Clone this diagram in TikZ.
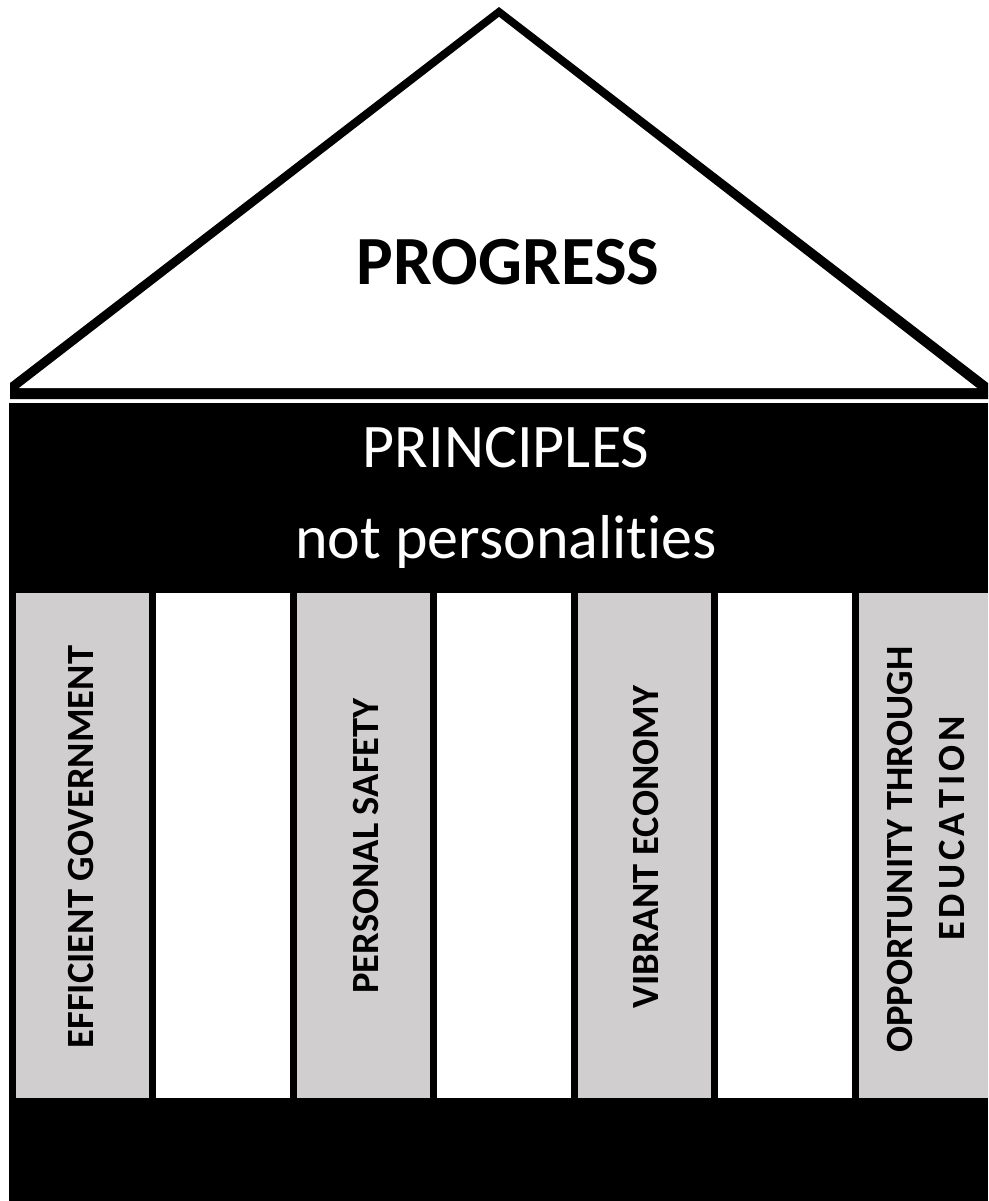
\documentclass[tikz,border=0pt]{standalone}
\usepackage{fontspec}
\setmainfont{Carlito}[Ligatures={NoCommon}]
\definecolor{pillargray}{RGB}{208,206,207}
\newcommand{\spreadword}[1]{\kern0pt#1}
\tikzset{
  pillarbox/.style={fill=pillargray, draw=none},
  gapbox/.style={fill=white, draw=none},
  pillartext/.style={rotate=90, inner sep=0pt, align=center, text=black,
    font=\fontsize{38.5}{50}\selectfont\bfseries},
  roofbig/.style={inner sep=0pt, text=black, font=\fontsize{69}{84}\selectfont\bfseries},
  bandtext/.style={inner sep=0pt, anchor=base, text=white, font=\fontsize{62}{74}\selectfont}
}
\begin{document}
\begin{tikzpicture}[x=1pt,y=-1pt]
\useasboundingbox (0,0) rectangle (988,1201);
\fill[white] (0,0) rectangle (988,1201);
% roof
\fill[black] (10,399) -- (10,383) -- (499,7) -- (988,383) -- (988,399) -- cycle;
\fill[white] (19,388) -- (499,17) -- (977,388) -- cycle;
\node[roofbig] (progress) at (508,262) {PROGRESS};
% body
\fill[black] (9,403) rectangle (988,1201);
\node[bandtext] (principles) at (506,467) {PRINCIPLES};
\node[bandtext] (notpers) at (506,558) {not personalities};
% pillars
\fill[pillarbox] (16,593) rectangle (149,1098);
\fill[gapbox] (156,593) rectangle (290,1098);
\fill[pillarbox] (297,593) rectangle (430,1098);
\fill[gapbox] (437,593) rectangle (571,1098);
\fill[pillarbox] (578,593) rectangle (711,1098);
\fill[gapbox] (718,593) rectangle (852,1098);
\fill[pillarbox] (859,593) rectangle (988,1098);
\node[pillartext] (p1) at (81,847) {EFFICIENT GOVERNMENT};
\node[pillartext] (p2) at (366,846) {PERSONAL SAFETY};
\node[pillartext] (p3) at (646,847) {VIBRANT ECONOMY};
\node[pillartext] (p4a) at (900.5,849.5) {OPPORTUNITY THROUGH};
\node[pillartext] (p4b) at (952.5,828.5) {E\kern4pt D\kern4pt U\kern4pt C\kern4pt A\kern4pt T\kern4pt I\kern4pt O\kern4pt N};
\end{tikzpicture}
\end{document}
